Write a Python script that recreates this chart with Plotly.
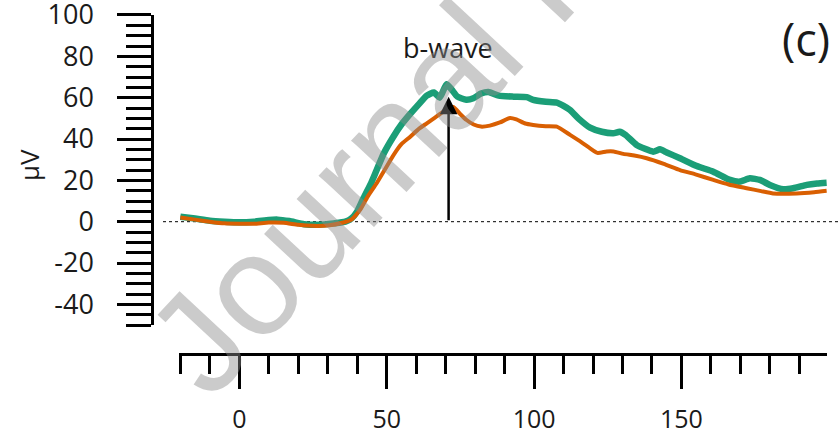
import plotly.graph_objects as go

# ---- data ----
green_t = [-20, -15, -10, -5, 0, 5, 10, 13, 17, 22, 27, 32, 36, 38, 40, 42, 44.5, 46.6, 49, 52.2,
           55, 57.9, 61, 63.6, 66, 68, 70.3, 72, 74, 77, 79.4, 82, 84.5, 88, 93, 97.5, 99.7, 104,
           107.7, 110, 112.2, 115, 119, 123, 126.9, 129, 131, 134.8, 140.4, 142.7, 145, 149.5,
           155.2, 160.8, 166.5, 169.8, 173.2, 176.6, 180, 184.5, 187.9, 192.5, 196, 199.3]
green_v = [2.4, 1.5, 0.5, 0, -0.3, 0, 0.8, 1.0, 0.3, -1.2, -1.5, -0.8, 0, 1.5, 5, 11, 18, 25, 33, 41,
           47, 52, 57, 61, 62.5, 60, 66.5, 64, 60.5, 59, 59.7, 62, 62.8, 61, 60.5, 60.3, 58.9, 58,
           57.6, 56, 54, 50, 45.5, 43.5, 42.8, 43.5, 42, 37.1, 33.9, 35, 33.5, 30.7,
           26.9, 24.2, 20.2, 19.4, 21, 20.2, 17.8, 15.7, 16.2, 17.8, 18.5, 18.9]

orange_t = [-20, -15, -10, -5, 0, 5, 10, 15, 20, 25, 30, 35, 38, 41, 43.5, 46.6, 49.5, 52.2, 55,
            57.9, 61, 63.6, 66.5, 69.2, 72.6, 75, 77.1, 79.5, 82, 85, 88.4, 91.8, 94, 97, 99.7,
            104, 107.7, 112.2, 116, 119, 121.5, 124.6, 127, 130.3, 134, 138.2, 144, 149.5, 155,
            160.8, 166, 172.1, 177, 181.1, 189.1, 195, 199.3]
orange_v = [2, 1, 0, -0.8, -1, -1, -0.4, -0.5, -1.5, -2, -1.8, -0.5, 1, 5.7, 12, 18.6, 25.5, 32, 37.5,
            41, 45, 47.6, 50.5, 53.2, 55.5, 52, 49.2, 47, 46, 46.5, 48, 50.2, 49.5, 47.5, 46.8,
            46.2, 46, 42, 38.5, 35.5, 33.3, 34, 34, 32.8, 32, 30.7, 28, 25, 22.8,
            20.2, 18, 16.2, 14.8, 13.7, 13.7, 14.3, 15]

x_tickvals = [0, 50, 100, 150]
x_ticktext = ["0", "50", "100", "150"]
y_tickvals = [-40, -20, 0, 20, 40, 60, 80, 100]
y_ticktext = ["-40", "-20", "0", "20", "40", "60", "80", "100"]
bwave_t = 71
bwave_peak = 60.5

W, H = 840, 438
FONT = "Open Sans"

# pixel geometry of the two axes
Y_LO, Y_HI = -50.2, 100.2
Y_PX_PER = 2.067
Y0_PX = 221.7
y_top_px = Y0_PX - Y_HI * Y_PX_PER
y_bot_px = Y0_PX - Y_LO * Y_PX_PER

fig = go.Figure()
fig.add_trace(go.Scatter(x=green_t, y=green_v, mode="lines",
                         line=dict(color="#1b9e77", width=6.5, shape="spline", smoothing=0.5),
                         showlegend=False))
fig.add_trace(go.Scatter(x=orange_t, y=orange_v, mode="lines",
                         line=dict(color="#d95f02", width=4, shape="spline", smoothing=0.5),
                         showlegend=False))

# dotted zero line
fig.add_shape(type="line", xref="paper", yref="y", x0=163 / W, x1=1.0, y0=0, y1=0,
              line=dict(color="black", width=1, dash="dot"), layer="below")

# b-wave arrow
fig.add_annotation(x=bwave_t, y=bwave_peak, ax=bwave_t, ay=0, axref="x", ayref="y",
                   xref="x", yref="y", text="", showarrow=True, arrowhead=2,
                   arrowsize=1.4, arrowwidth=2.5, arrowcolor="black", standoff=0)
fig.add_annotation(x=448 / W, y=1 - 47 / H, xref="paper", yref="paper", text="b-wave",
                   showarrow=False, font=dict(family=FONT, size=27, color="#1a1a1a"),
                   xanchor="center", yanchor="middle")
fig.add_annotation(x=806 / W, y=1 - 38 / H, xref="paper", yref="paper", text="(c)",
                   showarrow=False, font=dict(family=FONT, size=45, color="#1a1a1a"),
                   xanchor="center", yanchor="middle")
fig.add_annotation(x=29 / W, y=1 - 165 / H, xref="paper", yref="paper", text="μV",
                   textangle=-90, showarrow=False,
                   font=dict(family=FONT, size=26, color="#1a1a1a"),
                   xanchor="center", yanchor="middle")

# watermark
fig.add_annotation(x=550 / W, y=1 + 35 / H, xref="paper", yref="paper",
                   text="Journal Pre-proof", textangle=-47, showarrow=False,
                   font=dict(family="Liberation Sans", size=143, color="rgba(140,140,140,0.45)"),
                   xanchor="center", yanchor="middle")

fig.update_layout(
    width=W, height=H, margin=dict(l=0, r=0, t=0, b=0, autoexpand=False),
    paper_bgcolor="white", plot_bgcolor="white",
    font=dict(family=FONT, size=25, color="#1a1a1a"),
    xaxis=dict(domain=[179.46 / W, 826.8 / W], range=[-20.3, 199.3], anchor="free",
               position=1 - 354 / H, showline=True, linecolor="black", linewidth=2.5,
               showgrid=False, zeroline=False, tickmode="array", tickvals=x_tickvals,
               ticktext=x_ticktext, tickfont=dict(size=25), automargin=False,
               ticks="outside", ticklen=33, tickwidth=2.5, tickcolor="black",
               ticklabelstandoff=9, ticklabeloverflow="allow",
               minor=dict(tickmode="linear", tick0=0, dtick=10, ticks="outside", ticklen=18,
                          tickwidth=2.5, tickcolor="black", showgrid=False)),
    yaxis=dict(domain=[1 - y_bot_px / H, 1 - y_top_px / H], range=[Y_LO, Y_HI], anchor="free",
               position=152 / W, side="left", showline=True, linecolor="black", linewidth=2.5,
               showgrid=False, zeroline=False, tickmode="array", tickvals=y_tickvals,
               ticktext=y_ticktext, tickfont=dict(size=27), automargin=False,
               ticks="outside", ticklen=34, tickwidth=2.5, tickcolor="black",
               ticklabelstandoff=18, ticklabeloverflow="allow",
               minor=dict(tickmode="linear", tick0=0, dtick=5, ticks="outside", ticklen=25,
                          tickwidth=2.5, tickcolor="black", showgrid=False)),
)

fig.write_html("out.html")
